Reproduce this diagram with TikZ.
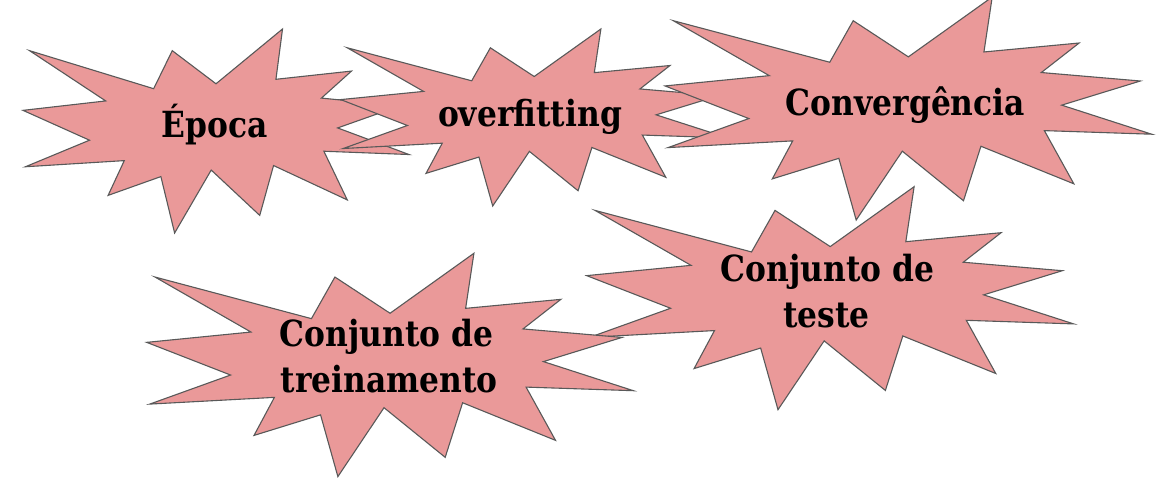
\documentclass[tikz,border=0pt]{standalone}
\usepackage{fontspec}
\newfontfamily\labelfont[FakeStretch=0.87]{DejaVu Serif}
\definecolor{sealfill}{HTML}{EA9999}
\definecolor{sealline}{HTML}{595959}
\tikzset{
  sealshape/.style={fill=sealfill, draw=sealline, line width=1.1pt, line join=miter},
  sealtext/.style={font=\labelfont\bfseries\fontsize{36}{44}\selectfont, text=black, inner sep=0pt, anchor=base}
}
\newcommand\drawseal[4]{%
  \begin{scope}[shift={(#1,#2)}, xscale=#3, yscale=#4]
    \draw[sealshape] (0.0171,0.1063) -- (0.3385,0.2926) -- (0.3867,0.1063) -- (0.5,0.2685)
      -- (0.6723,0) -- (0.6553,0.2465) -- (0.8509,0.2063) -- (0.7732,0.3387)
      -- (0.9767,0.3767) -- (0.8151,0.4850) -- (1,0.6153) -- (0.7795,0.5992)
      -- (0.8400,0.8377) -- (0.6491,0.6693) -- (0.6133,0.9137) -- (0.4876,0.6914)
      -- (0.3928,1) -- (0.3572,0.7235) -- (0.2205,0.8156) -- (0.2624,0.6452)
      -- (0.0063,0.6753) -- (0.1723,0.5451) -- (0,0.3988) -- (0.2142,0.3526) -- cycle;
  \end{scope}}
\begin{document}
\begin{tikzpicture}[x=1pt, y=-1pt]
\useasboundingbox (0,0) rectangle (1160,487);
\drawseal{23}{29}{386}{204}
\drawseal{340.7}{29}{387}{177}
\drawseal{665}{-3}{486.7}{223}
\drawseal{586.7}{186.7}{487}{223}
\drawseal{146.7}{253.3}{486.7}{223.3}
\node[sealtext] (epoca) at (214.5,137.3) {Época};
\node[sealtext] (overfit) at (530,126) {overfitting};
\node[sealtext] (conv) at (905.5,115) {Convergência};
\node[sealtext] (treinA) at (386.7,346.7) {Conjunto de};
\node[sealtext] (treinB) at (389.2,392.3) {treinamento};
\node[sealtext] (testeA) at (827.5,281.7) {Conjunto de};
\node[sealtext] (testeB) at (826.7,327.3) {teste};
\end{tikzpicture}
\end{document}
